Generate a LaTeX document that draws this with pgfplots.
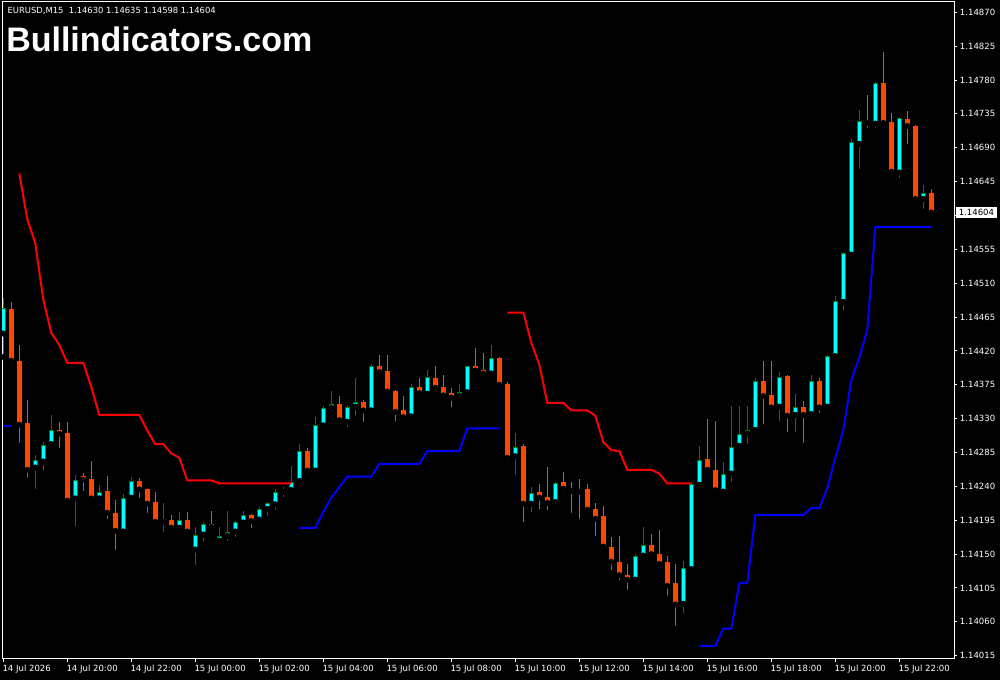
\documentclass[border=0pt]{standalone}
\usepackage{pgfplots}
\pgfplotsset{compat=1.18}
\usepackage{pgfplotstable}
\usepackage{fontspec}
\setmainfont{DejaVu Sans}
\newfontfamily\brandfont{Liberation Sans}
\definecolor{bullbody}{RGB}{0,255,255}
\definecolor{bulledge}{RGB}{0,128,0}
\definecolor{bearbody}{RGB}{255,69,0}

% EURUSD M15 candles, k = bar index (0 = 14 Jul 18:00)
% prices in units of 0.00001 above 1.14000 (o h l c)
\pgfplotstableread{
k o h l c
0 443 490 412 477
4 265 282 233 275
5 273 299 257 295
6 296 335 295 315
9 224 255 183 249
12 224 242 221 232
15 180 230 179 225
16 225 252 220 247
20 193 218 176 196
22 185 206 183 195
24 156 186 132 176
25 176 193 163 190
27 168 186 167 174
28 174 207 164 180
29 180 194 169 192
30 192 207 190 202
32 196 212 189 210
33 210 219 197 218
34 216 237 205 233
35 233 239 222 235
36 235 267 229 246
37 247 296 246 287
39 261 332 260 321
40 321 347 314 344
41 344 367 341 350
43 326 348 315 346
44 346 384 330 352
46 341 403 338 400
51 333 376 331 372
53 363 395 360 385
57 360 376 355 366
58 365 400 364 400
61 390 428 387 410
64 280 311 252 292
66 217 239 202 231
69 219 246 214 244
79 116 150 111 148
80 148 186 144 162
85 84 141 68 132
86 130 244 124 243
87 242 294 236 275
90 233 272 231 257
91 257 347 242 292
92 294 347 293 309
93 310 347 293 315
94 315 384 314 380
97 346 392 323 386
99 335 363 308 345
101 336 388 330 380
103 346 415 338 413
104 413 493 412 486
105 485 551 470 550
106 548 702 547 697
107 695 740 658 725
109 722 778 713 776
112 657 731 646 729
115 622 640 605 630
}\bull

\pgfplotstableread{
k o h l c
1 476 485 399 407
2 407 428 294 322
3 324 355 248 262
7 315 326 287 310
8 311 326 219 221
10 254 258 230 249
11 250 274 218 224
13 234 254 193 205
14 205 222 152 181
17 247 251 221 236
18 236 237 201 217
19 219 233 192 193
21 195 202 181 185
23 195 206 179 180
26 190 207 183 186
31 202 203 181 194
38 287 291 253 261
42 350 360 322 328
45 352 355 322 341
47 400 415 384 392
48 393 415 365 366
49 367 368 323 339
50 341 360 330 332
52 372 384 358 364
54 384 400 367 371
55 372 388 356 361
56 364 371 341 358
59 400 424 393 394
60 395 417 384 390
62 410 412 367 375
63 376 379 270 278
65 293 296 189 217
67 232 243 206 225
68 226 266 205 218
70 246 259 229 237
71 237 246 201 234
72 235 250 193 233
73 237 243 208 209
74 210 218 170 197
75 200 214 156 160
76 159 173 125 140
77 140 174 112 122
78 122 137 99 116
81 162 177 143 150
82 150 182 136 137
83 139 147 91 108
84 111 137 51 83
88 276 330 260 262
89 262 327 228 235
95 380 407 319 360
96 361 407 344 345
98 387 388 308 334
100 345 353 294 335
102 380 384 334 345
108 726 760 713 723
110 776 817 722 723
111 724 736 650 658
113 728 739 691 719
114 719 720 614 622
116 630 635 598 604
}\bear

% upper (red) and lower (blue) channel lines
\pgfplotstableread{
k v
2 656
3 595
4 563
5 488
6 444
7 428
8 404
9 404
10 404
11 372
12 335
13 335
14 335
15 335
16 335
17 335
18 314
19 296
20 296
21 284
22 278
23 248
24 248
25 248
26 248
27 244
28 244
29 244
30 244
31 244
32 244
33 244
34 244
35 244
36 244
}\redA

\pgfplotstableread{
k v
63 471
64 471
65 471
66 431
67 402
68 351
69 351
70 351
71 341
72 341
73 341
74 334
75 299
76 288
77 287
78 262
79 262
80 262
81 262
82 257
83 244
84 244
85 244
86 244
}\redB

\pgfplotstableread{
k v
0 320
1 320
}\blueA

\pgfplotstableread{
k v
37 185
38 185
39 185
40 206
41 225
42 239
43 253
44 253
45 253
46 253
47 270
48 270
49 270
50 270
51 270
52 270
53 287
54 287
55 287
56 287
57 287
58 317
59 317
60 317
61 317
62 317
}\blueB

\pgfplotstableread{
k v
87 28
88 28
89 28
90 51
91 51
92 111
93 112
94 202
95 202
96 202
97 202
98 202
99 202
100 202
101 211
102 211
103 238
104 278
105 315
106 381
107 411
108 448
109 585
110 585
111 585
112 585
113 585
114 585
115 585
116 585
}\blueC

\pgfplotsset{
  candle/.style={only marks, mark=none, forget plot,
    error bars/.cd, y dir=plus, y explicit, error mark=none},
}

\begin{document}
\begin{tikzpicture}[x=1pt,y=1pt]
\fill[black] (-1.5,-15.75) rectangle (748.5,494.25);
\begin{axis}[
  scale only axis, width=714pt, height=492.75pt,
  xmin=-0.1625, xmax=118.8375, ymin=10.6, ymax=883.7,
  axis line style={white, line width=0.75pt},
  tick style={white, line width=0.75pt},
  major tick length=2.25pt, tick align=outside,
  xtick pos=left, ytick pos=right, yticklabel pos=right,
  xtick={0,8,...,112},
  xticklabels={14 Jul 2026,14 Jul 20:00,14 Jul 22:00,15 Jul 00:00,15 Jul 02:00,15 Jul 04:00,15 Jul 06:00,15 Jul 08:00,15 Jul 10:00,15 Jul 12:00,15 Jul 14:00,15 Jul 16:00,15 Jul 18:00,15 Jul 20:00,15 Jul 22:00},
  ytick={15,60,...,870},
  yticklabels={1.14015,1.14060,1.14105,1.14150,1.14195,1.14240,1.14285,1.14330,1.14375,1.14420,1.14465,1.14510,1.14555,,1.14645,1.14690,1.14735,1.14780,1.14825,1.14870},
  ticklabel style={font=\fontsize{6.4}{7.5}\selectfont, text=white, inner sep=0pt},
  xticklabel style={anchor=north west, xshift=-0.75pt, yshift=-2pt},
  yticklabel style={anchor=west, xshift=2pt},
  /pgf/number format/assume math mode=true,
]
% wicks
\addplot[candle, error bar style={bulledge, line width=0.75pt}]
  table[x=k, y=l, y error plus expr=\thisrow{h}-\thisrow{l}] {\bull};
\addplot[candle, error bar style={bearbody, line width=0.75pt}]
  table[x=k, y=l, y error plus expr=\thisrow{h}-\thisrow{l}] {\bear};
% bodies
\addplot[candle, error bar style={bulledge, line width=3.75pt}]
  table[x=k, y=o, y error plus expr=\thisrow{c}-\thisrow{o}] {\bull};
\addplot[candle, error bar style={bullbody, line width=2.25pt, shorten <=0.75pt, shorten >=0.75pt}]
  table[x=k, y=o, y error plus expr=\thisrow{c}-\thisrow{o}] {\bull};
\addplot[candle, error bar style={bearbody, line width=3.75pt}]
  table[x=k, y=c, y error plus expr=\thisrow{o}-\thisrow{c}] {\bear};
% channel
\addplot[red, line width=1.5pt, mark=none] table[x=k, y=v] {\redA};
\addplot[red, line width=1.5pt, mark=none] table[x=k, y=v] {\redB};
\addplot[blue, line width=1.5pt, mark=none] table[x=k, y=v] {\blueA};
\addplot[blue, line width=1.5pt, mark=none] table[x=k, y=v] {\blueB};
\addplot[blue, line width=1.5pt, mark=none] table[x=k, y=v] {\blueC};
\coordinate (last) at (axis cs:118.8375,604);
\end{axis}
\node[anchor=west, fill=white, text=black, inner xsep=2.2pt, inner ysep=1.6pt,
  font=\fontsize{6.4}{7.5}\selectfont, xshift=1.2pt] at (last) {1.14604};
\node[anchor=base west, inner sep=0pt, text=white, font=\fontsize{6.3}{7.5}\selectfont]
  at (4,484.3) {EURUSD,M15\ \ 1.14630 1.14635 1.14598 1.14604};
\node[anchor=base west, inner sep=0pt, text=white, font=\brandfont\bfseries\fontsize{25.5}{30}\selectfont]
  at (3,455.5) {Bullindicators.com};
\pgfresetboundingbox
\path (-1.5,-15.75) rectangle (748.5,494.25);
\end{tikzpicture}
\end{document}
